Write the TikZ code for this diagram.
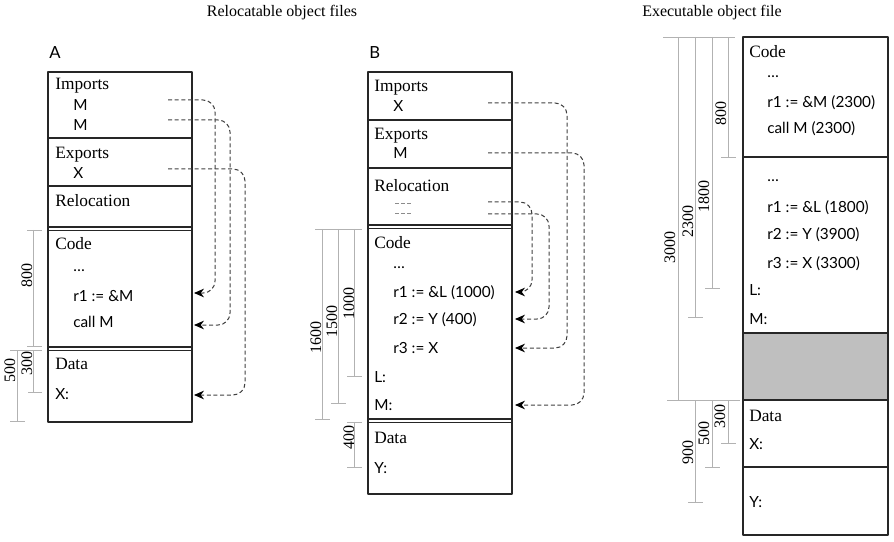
\documentclass[tikz,border=0pt]{standalone}
\usepackage{fontspec}
\setmainfont{Liberation Serif}
\setsansfont{Lato}
\usetikzlibrary{arrows.meta}
\begin{document}
\begin{tikzpicture}[x=0.75pt,y=-0.75pt,line join=round,
    box/.style={draw=black!85,line width=1.1pt},
    lbl/.style={anchor=base west,inner sep=0pt,font=\rmfamily\fontsize{13}{15}\selectfont},
    code/.style={anchor=base west,inner sep=0pt,font=\sffamily\fontsize{11.5}{14}\selectfont},
    dim/.style={draw=black!30,line width=0.7pt},
    dimlbl/.style={rotate=90,inner sep=0pt,font=\rmfamily\fontsize{12}{14}\selectfont},
    link/.style={draw=black!75,dash pattern=on 3pt off 2pt,line width=0.75pt,rounded corners=9pt,
      -{Stealth[length=7.5pt,width=6.5pt,color=black]}}]
\useasboundingbox (0,0) rectangle (894,542);
% titles
\node[lbl,anchor=base,font=\rmfamily\fontsize{12}{14}\selectfont] (trel) at (282,17) {Relocatable object files};
\node[lbl,anchor=base,font=\rmfamily\fontsize{12}{14}\selectfont] (texe) at (712,17) {Executable object file};

% ---- file A
\node[code,font=\sffamily\fontsize{12.5}{14}\selectfont] (aname) at (49,59) {A};
\draw[box] (48,72) rectangle (192,422);
\draw[box] (48,138) -- (192,138) (48,186) -- (192,186);
\draw[box] (48,227) -- (192,227) (48,230.5) -- (192,230.5);
\draw[box] (48,347) -- (192,347) (48,350.5) -- (192,350.5);
\node[lbl] (aimp) at (55,90) {Imports};
\node[code] (aimpM) at (73,111) {M};
\node[code] (aimpMM) at (73,131) {M};
\node[lbl] (aexp) at (55,159) {Exports};
\node[code] (aexpX) at (73,179) {X};
\node[lbl] (arel) at (55,207) {Relocation};
\node[lbl] (acode) at (55,249) {Code};
\node[code] (adots) at (73,272) {…};
\node[code] (ar1) at (73,301) {r1 := \&M};
\node[code] (acall) at (73,327) {call M};
\node[lbl] (adata) at (55,369) {Data};
\node[code] (aX) at (55,399) {X:};
\coordinate (aM1) at (168,100);
\coordinate (aM2) at (168,120);
\coordinate (aX1) at (168,169);
\coordinate (ar1e) at (194,293);
\coordinate (acalle) at (194,325);
\coordinate (aXe) at (194,395);
\draw[link] (aM1) -- ++(47,0) |- (ar1e);
\draw[link] (aM2) -- ++(62,0) |- (acalle);
\draw[link] (aX1) -- ++(77,0) |- (aXe);
% dimensions A
\draw[dim] (27,230) -- (42,230) (33,230) -- (33,346) (27,346) -- (42,346);
\draw[dim] (10,350) -- (42,350) (33,350) -- (33,392) (28,392) -- (42,392);
\draw[dim] (17,350) -- (17,421) (10,421) -- (25,421);
\node[dimlbl] (a800) at (27,275) {800};
\node[dimlbl] (a300) at (27,363) {300};
\node[dimlbl] (a500) at (10,370) {500};

% ---- file B
\node[code,font=\sffamily\fontsize{12.5}{14}\selectfont] (bname) at (369,59) {B};
\draw[box] (368,72) rectangle (512,494);
\draw[box] (368,120) -- (512,120) (368,168) -- (512,168);
\draw[box] (368,225) -- (512,225) (368,228.5) -- (512,228.5);
\draw[box] (368,419) -- (512,419) (368,422.5) -- (512,422.5);
\node[lbl] (bimp) at (374,92) {Imports};
\node[code] (bimpX) at (393,112) {X};
\node[lbl] (bexp) at (374,140) {Exports};
\node[code] (bexpM) at (393,159) {M};
\node[lbl] (brel) at (374,192) {Relocation};
\draw[draw=black!45,dash pattern=on 3pt off 1.5pt,line width=0.7pt] (395,203) -- (412,203) (395,213) -- (412,213);
\node[lbl] (bcode) at (374,248) {Code};
\node[code] (bdots) at (393,268) {…};
\node[code] (br1) at (393,297) {r1 := \&L (1000)};
\node[code] (br2) at (393,325) {r2 := Y (400)};
\node[code] (br3) at (393,353) {r3 := X};
\node[code] (bL) at (374,382) {L:};
\node[code] (bM) at (374,410) {M:};
\node[lbl] (bdata) at (374,443) {Data};
\node[code] (bY) at (374,473) {Y:};
\coordinate (bX1) at (488,103);
\coordinate (bM1) at (488,153);
\coordinate (bR1) at (488,202);
\coordinate (bR2) at (488,214);
\coordinate (br1e) at (515,292);
\coordinate (br2e) at (515,319);
\coordinate (br3e) at (515,348);
\coordinate (bMe) at (515,405);
\draw[link] (bX1) -- ++(79,0) |- (br3e);
\draw[link] (bM1) -- ++(96,0) |- (bMe);
\draw[link] (bR1) -- ++(44,0) |- (br1e);
\draw[link] (bR2) -- ++(61,0) |- (br2e);
% dimensions B
\draw[dim] (315,229) -- (362,229);
\draw[dim] (322,229) -- (322,419) (315,419) -- (330,419);
\draw[dim] (338,229) -- (338,403) (331,403) -- (346,403);
\draw[dim] (354,229) -- (354,376) (347,376) -- (362,376);
\draw[dim] (347,422) -- (362,422) (354,422) -- (354,467) (347,467) -- (362,467);
\node[dimlbl] (b1600) at (316,337) {1600};
\node[dimlbl] (b1500) at (332,321) {1500};
\node[dimlbl] (b1000) at (349,303) {1000};
\node[dimlbl] (b400) at (349,437) {400};

% ---- executable file
\fill[black!25] (743,333) rectangle (888,400);
\draw[box] (743,37) rectangle (888,535);
\draw[box] (743,157) -- (888,157) (743,333) -- (888,333) (743,400) -- (888,400) (743,467) -- (888,467);
\node[lbl] (ccode) at (749,58) {Code};
\node[code] (cdots) at (767,78) {…};
\node[code] (cr1) at (767,108) {r1 := \&M (2300)};
\node[code] (ccall) at (767,134) {call M (2300)};
\node[code] (cdotsb) at (767,181) {…};
\node[code] (cr1b) at (767,213) {r1 := \&L (1800)};
\node[code] (cr2) at (767,239) {r2 := Y (3900)};
\node[code] (cr3) at (767,268) {r3 := X (3300)};
\node[code] (cL) at (749,296) {L:};
\node[code] (cM) at (749,324) {M:};
\node[lbl] (cdata) at (749,421) {Data};
\node[code] (cX) at (749,449) {X:};
\node[code] (cY) at (749,507) {Y:};
% dimensions C
\draw[dim] (663,37) -- (735,37);
\draw[dim] (678,37) -- (678,400);
\draw[dim] (695,37) -- (695,317) (688,317) -- (703,317);
\draw[dim] (712,37) -- (712,288) (705,288) -- (720,288);
\draw[dim] (728,37) -- (728,157) (721,157) -- (736,157);
\draw[dim] (667,400) -- (740,400);
\draw[dim] (728,400) -- (728,443) (721,443) -- (736,443);
\draw[dim] (712,400) -- (712,467) (705,467) -- (720,467);
\draw[dim] (695,400) -- (695,502) (688,502) -- (703,502);
\node[dimlbl] (c3000) at (670,247) {3000};
\node[dimlbl] (c2300) at (688,222) {2300};
\node[dimlbl] (c1800) at (704,197) {1800};
\node[dimlbl] (c800) at (721,114) {800};
\node[dimlbl] (c300) at (720,416) {300};
\node[dimlbl] (c500) at (704,433) {500};
\node[dimlbl] (c900) at (688,452) {900};
\end{tikzpicture}
\end{document}
